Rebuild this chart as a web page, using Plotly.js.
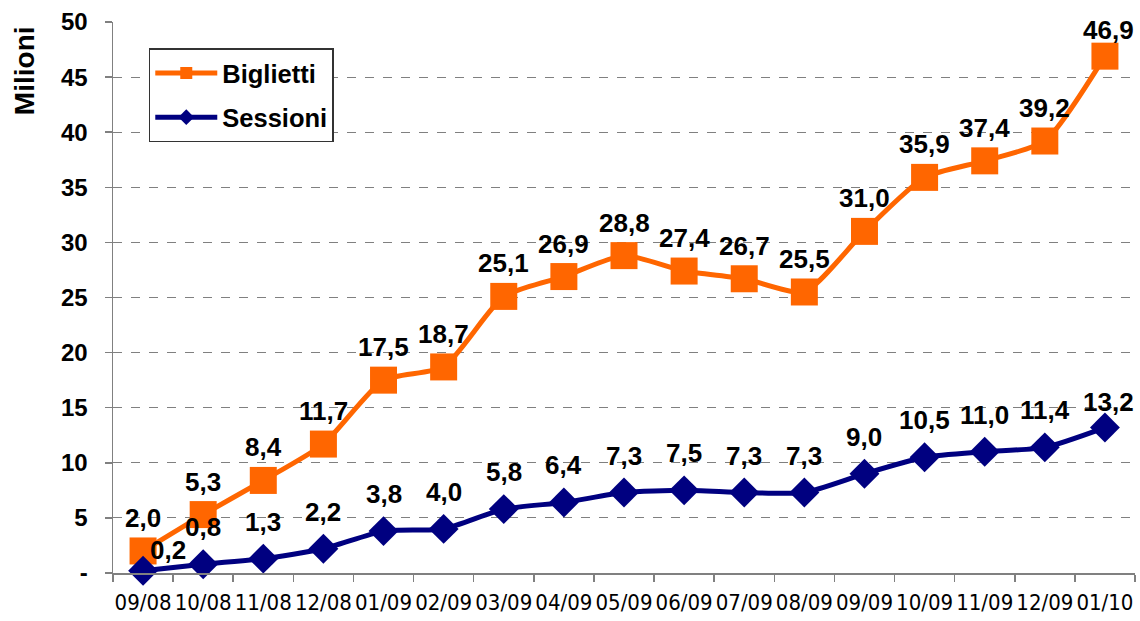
<!DOCTYPE html>
<html>
<head>
<meta charset="utf-8">
<script src="https://cdn.plot.ly/plotly-3.0.1.min.js"></script>
<style>
html,body{margin:0;padding:0;background:#fff;}
#chart{width:1140px;height:621px;}
</style>
</head>
<body>
<div id="chart"></div>
<script>
var months = ["09/08","10/08","11/08","12/08","01/09","02/09","03/09","04/09","05/09","06/09","07/09","08/09","09/09","10/09","11/09","12/09","01/10"];
var biglietti = [2.0,5.3,8.4,11.7,17.5,18.7,25.1,26.9,28.8,27.4,26.7,25.5,31.0,35.9,37.4,39.2,46.9];
var sessioni = [0.2,0.8,1.3,2.2,3.8,4.0,5.8,6.4,7.3,7.5,7.3,7.3,9.0,10.5,11.0,11.4,13.2];
var yTickVals = [0,5,10,15,20,25,30,35,40,45,50];
var yTickText = ["-","5","10","15","20","25","30","35","40","45","50"];

function fmt(v){ return v.toFixed(1).replace('.', ','); }

var BOLD = "Liberation Sans, Arial, sans-serif";
var labelFont = {family:BOLD, size:26, color:"#000", weight:"bold"};

var traces = [
  {
    x: months, y: biglietti, name: "Biglietti", legendgroup: "b", type: "scatter", mode: "lines+markers",
    line: {color:"#FF6600", width:5, shape:"spline", smoothing:0.6},
    marker: {symbol:"square", size:27, color:"#FF6600"},
    cliponaxis: false, hoverinfo: "skip"
  },
  {
    x: months, y: sessioni, name: "Sessioni", legendgroup: "s", type: "scatter", mode: "lines+markers",
    line: {color:"#000080", width:5, shape:"spline", smoothing:0.6},
    marker: {symbol:"diamond", size:23, color:"#000080"},
    cliponaxis: false, hoverinfo: "skip"
  }
];

// data labels built from the series
var annotations = [];
var last = months.length - 1;
biglietti.forEach(function(v, i){
  annotations.push({
    x: months[i], y: v, xref: "x", yref: "y", text: fmt(v), showarrow: false,
    font: labelFont, xanchor: "center", yanchor: "bottom",
    yshift: (i === last ? 9 : 16), xshift: (i === last ? 4 : 0)
  });
});
sessioni.forEach(function(v, i){
  var ys = 20, xs = 0;
  if (i === 0) { ys = 4; xs = 25; }
  if (i === last) { ys = 9; xs = 4; }
  annotations.push({
    x: months[i], y: v, xref: "x", yref: "y", text: fmt(v), showarrow: false,
    font: labelFont, xanchor: "center", yanchor: "bottom",
    yshift: ys, xshift: xs
  });
});
// y-axis title placed at the top-left like the reference
annotations.push({
  xref: "paper", yref: "paper", x: -0.087, y: 0.911, text: "Milioni",
  showarrow: false, textangle: -90, xanchor: "center", yanchor: "middle",
  font: {family:BOLD, size:28, color:"#000", weight:"bold"}
});

var layout = {
  width: 1140, height: 621,
  margin: {l:113, r:5, t:22, b:48, pad:0},
  paper_bgcolor: "#fff", plot_bgcolor: "#fff",
  showlegend: true,
  legend: {
    x: 0.035, y: 0.952, xanchor: "left", yanchor: "top",
    bgcolor: "#fff", bordercolor: "#333", borderwidth: 1.5,
    font: {family:BOLD, size:25.5, color:"#000", weight:"bold"},
    itemwidth: 62, itemsizing: "constant",
    traceorder: "grouped", tracegroupgap: 8
  },
  xaxis: {
    type: "category", range: [-0.5, 16.5],
    showgrid: false, zeroline: false,
    showline: true, linecolor: "#808080", linewidth: 1.5,
    ticks: "outside", tickson: "boundaries", ticklen: 7, tickcolor: "#808080", tickwidth: 1.5,
    ticklabelstandoff: 9,
    tickfont: {family:"DejaVu Sans Condensed, DejaVu Sans, sans-serif", size:22, color:"#000", stretch:"condensed"},
    tickangle: 0
  },
  yaxis: {
    range: [0, 50], tickvals: yTickVals, ticktext: yTickText,
    showgrid: true, gridcolor: "#808080", griddash: "dash", gridwidth: 1,
    zeroline: false,
    showline: true, linecolor: "#808080", linewidth: 1.5,
    ticks: "outside", ticklen: 7, tickcolor: "#808080", tickwidth: 1.5,
    ticklabelstandoff: 12,
    tickfont: {family:BOLD, size:24, color:"#000", weight:"bold"}
  },
  annotations: annotations,
  hovermode: false
};

Plotly.newPlot("chart", traces, layout, {staticPlot:true, displayModeBar:false});
</script>
</body>
</html>
